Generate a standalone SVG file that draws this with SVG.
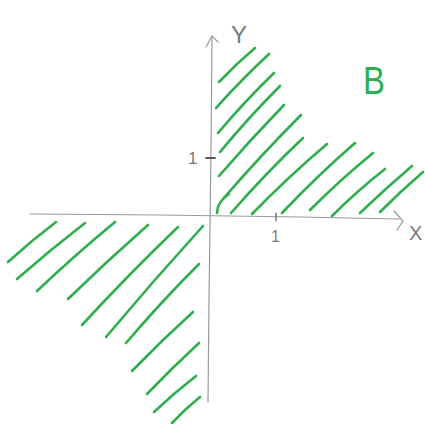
<svg xmlns="http://www.w3.org/2000/svg" width="425" height="424" viewBox="0 0 425 424">
<style>
.ax{fill:none;stroke:#9a9a9a;stroke-width:1.2;stroke-linecap:round}
.h{fill:none;stroke:#2fae4e;stroke-width:2.6;stroke-linecap:round}
.lbl{font-family:"Liberation Sans",Arial,sans-serif;fill:#7a7a7a}
</style>
<rect width="425" height="424" fill="#ffffff"/>
<g id="axes">
<path class="ax" d="M30,214 L160,215 L300,217 L400,219"/>
<path class="ax" d="M394,211 L403,221 L397,230"/>
<path class="ax" d="M212,37 L211,150 L209,300 L208,402"/>
<path class="ax" d="M206,47 L212,36 L218,42"/>
<path class="ax" d="M206,158 L215,158" style="stroke-width:1.8;stroke:#555"/>
<path class="ax" d="M276,213 L276,221" style="stroke:#555"/>
</g>
<g id="labels">
<text class="lbl" x="231" y="43" font-size="24">Y</text>
<text class="lbl" x="409" y="240" font-size="20">X</text>
<text class="lbl" x="188" y="164" font-size="17">1</text>
<text class="lbl" x="271" y="242" font-size="16">1</text>
<text x="363" y="94" font-family="Liberation Sans, Arial, sans-serif" font-size="38" fill="#2fae4e" textLength="22" lengthAdjust="spacingAndGlyphs">B</text>
</g>
<g id="hatch-upper-right">
<path class="h" d="M219,82 Q236,64 255,48"/>
<path class="h" d="M216,108 Q242,79 269,54"/>
<path class="h" d="M218,133 Q245,101 274,73"/>
<path class="h" d="M220,152 Q249,117 280,86"/>
<path class="h" d="M219,176 Q251,139 284,105"/>
<path class="h" d="M223,199 Q261,155 301,115"/>
<path class="h" d="M217,213 Q217,202 229,194"/>
<path class="h" d="M231,213 Q266,173 303,138"/>
<path class="h" d="M252,214 Q288,177 327,144"/>
<path class="h" d="M282,213 Q317,176 355,143"/>
<path class="h" d="M310,210 Q340,180 373,153"/>
<path class="h" d="M332,216 Q357,191 385,169"/>
<path class="h" d="M360,213 Q385,189 412,166"/>
<path class="h" d="M380,212 Q401,191 423,172"/>
</g>
<g id="hatch-lower-left">
<path class="h" d="M8,262 Q31,241 56,222"/>
<path class="h" d="M17,279 Q50,250 85,223"/>
<path class="h" d="M37,291 Q75,255 115,222"/>
<path class="h" d="M68,299 Q107,261 148,225"/>
<path class="h" d="M82,325 Q129,274 178,227"/>
<path class="h" d="M106,337 Q153,281 203,226"/>
<path class="h" d="M126,343 Q161,302 199,264"/>
<path class="h" d="M132,371 Q161,341 193,312"/>
<path class="h" d="M147,394 Q172,368 199,343"/>
<path class="h" d="M154,412 Q174,393 196,376"/>
<path class="h" d="M172,423 Q185,409 200,397"/>
</g>
</svg>
